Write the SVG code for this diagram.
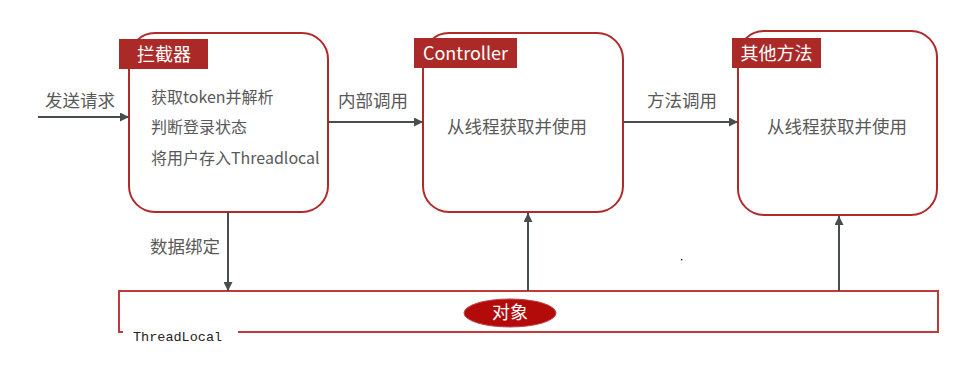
<svg xmlns="http://www.w3.org/2000/svg" width="975" height="379" viewBox="0 0 975 379">
<defs>
<marker id="arr" viewBox="0 0 10 10" refX="10" refY="5" markerWidth="9" markerHeight="9" markerUnits="userSpaceOnUse" orient="auto">
<path d="M0,0 L10,5 L0,10 z" fill="#484d4e"/>
</marker>
<style>
.box{fill:#fff;stroke:#b02a2a;stroke-width:2}
.tag{fill:#ab2a27}
.tagt{fill:#fff;font-family:"Noto Sans CJK SC","Noto Sans",sans-serif;font-size:18px;text-anchor:middle}
.body{fill:#595959;font-family:"Noto Sans CJK SC","Noto Sans",sans-serif;font-size:16px}
.mid{fill:#595959;font-family:"Noto Sans CJK SC","Noto Sans",sans-serif;font-size:17.5px;text-anchor:middle}
.lbl{fill:#595959;font-family:"Noto Sans CJK SC","Noto Sans",sans-serif;font-size:17.5px}
.conn{stroke:#484d4e;stroke-width:2;fill:none;marker-end:url(#arr)}
.tl{fill:none;stroke:#c0393b;stroke-width:2}
</style>
</defs>

<g id="interceptor">
<rect class="box" x="129" y="33" width="199" height="179" rx="26"/>
<rect class="tag" x="119" y="39" width="89" height="30"/>
<text class="tagt" x="164" y="61">拦截器</text>
<text class="body" x="151" y="103">获取token并解析</text>
<text class="body" x="151" y="133">判断登录状态</text>
<text class="body" x="151" y="164">将用户存入Threadlocal</text>
</g>

<g id="controller">
<rect class="box" x="423" y="33" width="200" height="179" rx="26"/>
<rect class="tag" x="414" y="38" width="103" height="30"/>
<text class="tagt" x="465.5" y="60">Controller</text>
<text class="mid" x="517" y="133">从线程获取并使用</text>
</g>

<g id="other">
<rect class="box" x="738" y="31" width="199" height="184" rx="26"/>
<rect class="tag" x="732" y="38" width="89" height="30"/>
<text class="tagt" x="776.5" y="60">其他方法</text>
<text class="mid" x="837" y="133">从线程获取并使用</text>
</g>

<g id="threadlocal">
<path class="tl" d="M123,332 H119 V291 H938 V332 H238"/>
<text x="133" y="341" font-family="'Liberation Mono','DejaVu Sans Mono',monospace" font-size="13.5" fill="#222">ThreadLocal</text>
<ellipse cx="510" cy="313" rx="46" ry="14" fill="#b30a0a" stroke="#c24545" stroke-width="1"/>
<text class="tagt" x="510" y="319" font-size="18">对象</text>
</g>

<g id="connectors">
<line class="conn" x1="38" y1="117" x2="129" y2="117"/>
<text class="lbl" x="45" y="107">发送请求</text>
<line class="conn" x1="328" y1="122" x2="423" y2="122"/>
<text class="lbl" x="338" y="107">内部调用</text>
<line class="conn" x1="623" y1="122" x2="738" y2="122"/>
<text class="lbl" x="647" y="107">方法调用</text>
<line class="conn" x1="228" y1="212" x2="228" y2="291"/>
<text class="lbl" x="150" y="253">数据绑定</text>
<line class="conn" x1="528" y1="291" x2="528" y2="213"/>
<line class="conn" x1="839" y1="291" x2="839" y2="216"/>
</g>
<rect x="681" y="259" width="1.3" height="1.3" fill="#000"/>
</svg>
